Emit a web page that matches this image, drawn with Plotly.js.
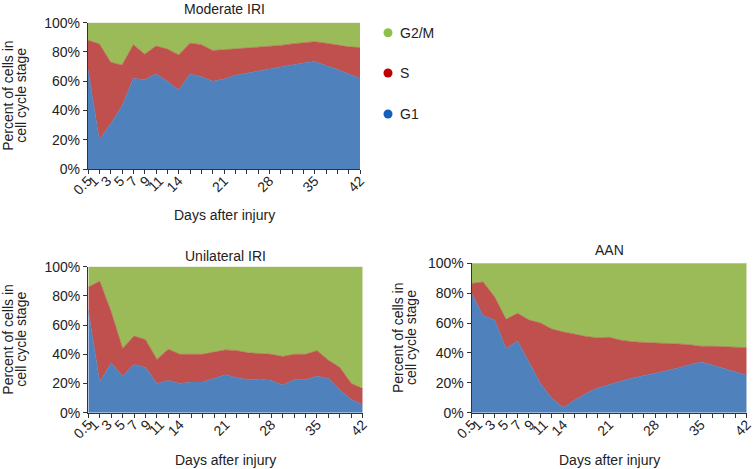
<!DOCTYPE html>
<html>
<head>
<meta charset="utf-8">
<script src="https://cdn.plot.ly/plotly-3.0.1.min.js"></script>
<style>html,body{margin:0;padding:0;background:#fff;}#chart{width:754px;height:469px;}</style>
</head>
<body>
<div id="chart"></div>
<script>
// Sample positions along the day axis (equally spaced category points)
const sampleDays = [0,1.75,3.5,5.25,7,8.75,10.5,12.25,14,15.75,17.5,19.25,21,22.75,24.5,26.25,28,29.75,31.5,33.25,35,36.75,38.5,40.25,42];
// Tick labels and where they sit on the day axis
const labelDays = [0,1,3,5,7,9,11,14,21,28,35,42];
const dayLabels = ['0.5','1','3','5','7','9','11','14','21','28','35','42'];
const yTickVals = [0,20,40,60,80,100];
const yTickLabels = ['0%','20%','40%','60%','80%','100%'];

// Moderate IRI (% of cells)
const modG1  = [68,20,31,43,62,61,65,60,54,65,63,60,61.5,64,65.5,67,68.5,70,71.5,72.5,73.5,71,68,65,62];
const modS   = [20,65.5,42,28,23,17.5,19,22,24,21,22,21,20,18,17,16,15,14.5,14,14,13.5,15,16.5,18.5,21];
const modG2M = [12,14.5,27,29,15,21.5,16,18,22,14,15,19,18.5,18,17.5,17,16.5,15.5,14.5,13.5,13,14,15.5,16.5,17];

// Unilateral IRI
const uniG1  = [70,21,34,25,33,31,20,22,20,21,21,23.5,26,24,22.5,23,22,19,22.5,22.5,25,23.5,15.5,9,5.5];
const uniS   = [16,69,35,19,19.5,19,16.5,21.5,20,19,19,18,17,18.5,18.5,17.5,18,19.5,17.5,17.5,17.5,12.5,15.5,11,11];
const uniG2M = [14,10,31,56,47.5,50,63.5,56.5,60,60,60,58.5,57,57.5,59,59.5,60,61.5,60,60,57.5,64,69,80,83.5];

// AAN
const aanG1  = [79.5,65,62,43,48,34,19.5,9.5,3.5,8.5,13,16.5,19,21,23,24.5,26.5,28,30,32,34,32,29.5,27.5,25];
const aanS   = [7,22.5,15.5,19.5,18.5,28,40.5,46.5,50.5,44,38,33.5,31.5,27.5,24.5,22.5,20,18.5,16,13.5,10.5,12.5,14.5,16.5,18.5];
const aanG2M = [13.5,12.5,22.5,37.5,33.5,38,40,44,46,47.5,49,50,49.5,51.5,52.5,53,53.5,53.5,54,54.5,55.5,55.5,56,56,56.5];

const seriesNames = ['G1','S','G2/M'];
const fillColors = ['#4f81bd','#c0504d','#9bbb59'];
const legendColors = ['#1560bd','#c00000','#8cc04b'];
const yTitleLines = ['Percent of cells in','cell cycle stage'];

const W = 754, H = 469;
const FONT = 'Liberation Sans, Arial, sans-serif';
const TXT = '#222';

// panel geometry in pixels
const panels = [
  {name:'Moderate IRI', data:[modG1,modS,modG2M], x0:88, x1:360, yTop:22.7, yBot:169, titleY:9, xTitleY:215, yTitleX:[8,21]},
  {name:'Unilateral IRI', data:[uniG1,uniS,uniG2M], x0:88.3, x1:362.7, yTop:266.7, yBot:412.7, titleY:256, xTitleY:460, yTitleX:[8,21]},
  {name:'AAN', data:[aanG1,aanS,aanG2M], x0:471.7, x1:746.7, yTop:263.3, yBot:412.7, titleY:250, xTitleY:460, yTitleX:[398,411]}
];

const traces = [];
const layout = {
  width: W, height: H,
  margin: {l:0, r:0, t:0, b:0},
  paper_bgcolor: '#fff', plot_bgcolor: '#fff',
  showlegend: false,
  font: {family: FONT, size: 14, color: TXT},
  annotations: [], shapes: []
};

panels.forEach((p, k) => {
  const n = k + 1;
  const xs = n === 1 ? '' : String(n);
  const lab = String(n + 3);
  const xd = [p.x0 / W, p.x1 / W];
  const yd = [1 - p.yBot / H, 1 - p.yTop / H];
  const sg = 'stack' + n;
  p.data.forEach((vals, j) => {
    traces.push({
      type: 'scatter', mode: 'lines',
      x: sampleDays, y: vals,
      xaxis: 'x' + xs, yaxis: 'y' + xs,
      stackgroup: sg, groupnorm: 'percent',
      name: seriesNames[j],
      line: {width: 0.6, color: fillColors[j], shape: 'linear'},
      fillcolor: fillColors[j],
      hoverinfo: 'skip'
    });
  });
  // tick-mark axis
  layout['xaxis' + xs] = {
    domain: xd, anchor: 'y' + xs, range: [0, 42],
    tickmode: 'array', tickvals: sampleDays, showticklabels: false,
    ticks: 'outside', ticklen: 4, tickwidth: 1, tickcolor: '#333',
    showline: true, linecolor: '#333', linewidth: 1.2,
    showgrid: false, zeroline: false, fixedrange: true
  };
  // label axis overlaying it
  layout['xaxis' + lab] = {
    domain: xd, anchor: 'y' + xs, overlaying: 'x' + xs, range: [0, 42],
    tickmode: 'array', tickvals: labelDays, ticktext: dayLabels,
    ticks: '', tickangle: -45, showline: false, showgrid: false, zeroline: false,
    tickfont: {family: FONT, size: 14, color: TXT}, side: 'bottom', fixedrange: true
  };
  layout['yaxis' + xs] = {
    domain: yd, anchor: 'x' + xs, range: [0, 100],
    tickmode: 'array', tickvals: yTickVals, ticktext: yTickLabels,
    ticks: 'outside', ticklen: 4, tickwidth: 1, tickcolor: '#333',
    showline: true, linecolor: '#333', linewidth: 1.2,
    showgrid: false, zeroline: false,
    tickfont: {family: FONT, size: 14, color: TXT}, fixedrange: true
  };
  // dummy trace so the label axis is drawn
  traces.push({type:'scatter', mode:'markers', x:[null], y:[null], xaxis:'x' + lab, yaxis:'y' + xs, showlegend:false, hoverinfo:'skip'});

  const cx = (p.x0 + p.x1) / 2 / W;
  layout.annotations.push({text: p.name, xref:'paper', yref:'paper', x: cx, y: 1 - p.titleY / H, xanchor:'center', yanchor:'middle', showarrow:false, font:{family:FONT, size:14, color:TXT}});
  layout.annotations.push({text: 'Days after injury', xref:'paper', yref:'paper', x: cx, y: 1 - p.xTitleY / H, xanchor:'center', yanchor:'middle', showarrow:false, font:{family:FONT, size:14, color:TXT}});
  yTitleLines.forEach((t, li) => {
    layout.annotations.push({text: t, xref:'paper', yref:'paper', x: p.yTitleX[li] / W, y: 1 - (p.yTop + p.yBot) / 2 / H, xanchor:'center', yanchor:'middle', textangle:-90, showarrow:false, font:{family:FONT, size:14, color:TXT}});
  });
});

// legend (dots + labels), top to bottom: G2/M, S, G1
const legendOrder = [2, 1, 0];
const legendY = [32.7, 73, 114];
legendOrder.forEach((j, r) => {
  layout.shapes.push({type:'circle', xref:'paper', yref:'paper', xsizemode:'pixel', ysizemode:'pixel',
    xanchor: 388 / W, yanchor: 1 - legendY[r] / H, x0:-4.5, x1:4.5, y0:-4.5, y1:4.5,
    fillcolor: legendColors[j], line:{width:0}});
  layout.annotations.push({text: seriesNames[j], xref:'paper', yref:'paper', x: 398 / W, y: 1 - legendY[r] / H,
    xanchor:'left', yanchor:'middle', showarrow:false, font:{family:FONT, size:14, color:TXT}});
});

Plotly.newPlot('chart', traces, layout, {staticPlot: true, displayModeBar: false});
</script>
</body>
</html>
